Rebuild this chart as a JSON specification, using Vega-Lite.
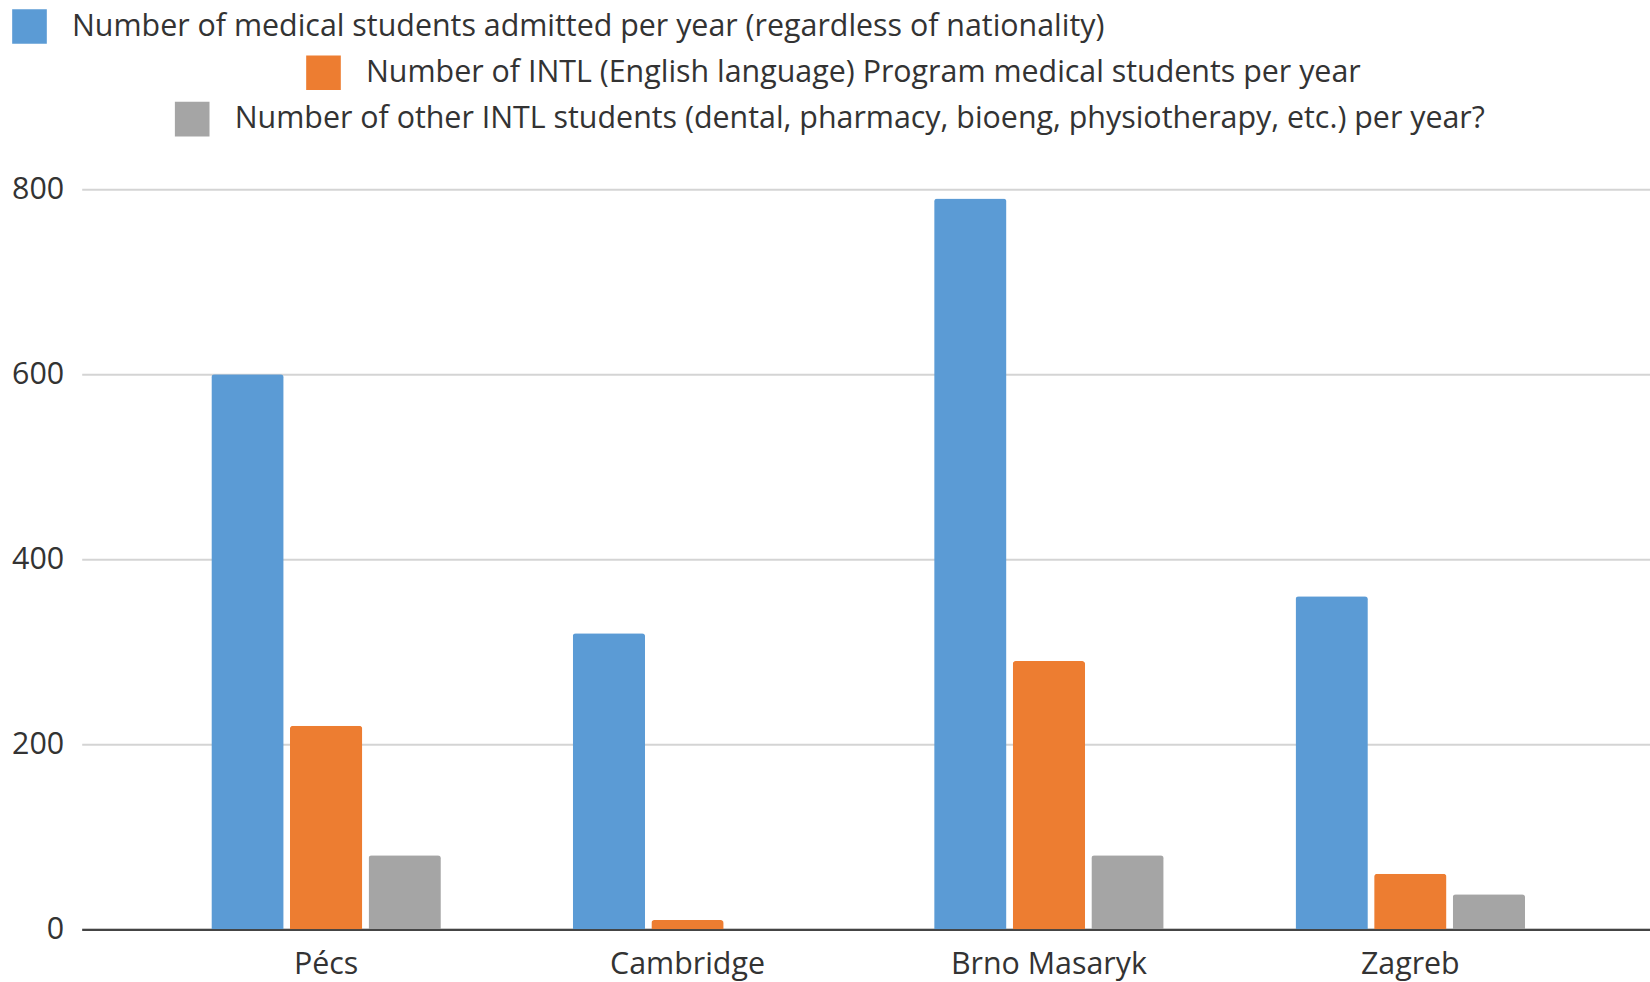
{
  "$schema": "https://vega.github.io/schema/vega-lite/v6.json",
  "width": 1573,
  "height": 740,
  "autosize": {"type": "none"},
  "padding": {"left": 81.7, "top": 189.3, "right": 0, "bottom": 52},
  "background": "white",
  "config": {
    "view": {"stroke": null},
    "font": "Open Sans",
    "legend": {
      "padding": 0,
      "symbolType": "square",
      "symbolSize": 1200,
      "symbolStrokeWidth": 0,
      "symbolOpacity": 1,
      "labelFont": "Open Sans",
      "labelFontSize": 30.4,
      "labelColor": "#333333",
      "labelOffset": 25,
      "labelLimit": 0,
      "title": null
    }
  },
  "data": {
    "values": [
      {"school": "Pécs", "series": "Number of medical students admitted per year (regardless of nationality)", "value": 600},
      {"school": "Pécs", "series": "Number of INTL (English language) Program medical students per year", "value": 220},
      {"school": "Pécs", "series": "Number of other INTL students (dental, pharmacy, bioeng, physiotherapy, etc.) per year?", "value": 80},
      {"school": "Cambridge", "series": "Number of medical students admitted per year (regardless of nationality)", "value": 320},
      {"school": "Cambridge", "series": "Number of INTL (English language) Program medical students per year", "value": 10},
      {"school": "Brno Masaryk", "series": "Number of medical students admitted per year (regardless of nationality)", "value": 790},
      {"school": "Brno Masaryk", "series": "Number of INTL (English language) Program medical students per year", "value": 290},
      {"school": "Brno Masaryk", "series": "Number of other INTL students (dental, pharmacy, bioeng, physiotherapy, etc.) per year?", "value": 80},
      {"school": "Zagreb", "series": "Number of medical students admitted per year (regardless of nationality)", "value": 360},
      {"school": "Zagreb", "series": "Number of INTL (English language) Program medical students per year", "value": 60},
      {"school": "Zagreb", "series": "Number of other INTL students (dental, pharmacy, bioeng, physiotherapy, etc.) per year?", "value": 38}
    ]
  },
  "encoding": {
    "x": {
      "field": "school",
      "type": "nominal",
      "sort": ["Pécs", "Cambridge", "Brno Masaryk", "Zagreb"],
      "scale": {"paddingInner": 0.3475, "paddingOuter": 0.35},
      "axis": {
        "title": null,
        "labelAngle": 0,
        "labelFont": "Open Sans",
        "labelFontSize": 30.4,
        "labelColor": "#333333",
        "labelPadding": 20,
        "labelLimit": 0,
        "ticks": false,
        "domainColor": "#444444",
        "domainWidth": 2.3,
        "grid": false
      }
    },
    "xOffset": {
      "field": "series",
      "type": "nominal",
      "sort": [
        "Number of medical students admitted per year (regardless of nationality)",
        "Number of INTL (English language) Program medical students per year",
        "Number of other INTL students (dental, pharmacy, bioeng, physiotherapy, etc.) per year?"
      ],
      "scale": {
        "domain": [
          "Number of medical students admitted per year (regardless of nationality)",
          "Number of INTL (English language) Program medical students per year",
          "Number of other INTL students (dental, pharmacy, bioeng, physiotherapy, etc.) per year?"
        ],
        "paddingInner": 0.08,
        "paddingOuter": 0.04
      }
    },
    "y": {
      "field": "value",
      "type": "quantitative",
      "scale": {"domain": [0, 800], "nice": false},
      "axis": {
        "title": null,
        "values": [0, 200, 400, 600, 800],
        "labelFont": "Open Sans",
        "labelFontSize": 30.4,
        "labelColor": "#333333",
        "labelPadding": 18,
        "ticks": false,
        "domain": false,
        "gridColor": "#d4d4d4",
        "gridWidth": 2
      }
    }
  },
  "layer": [
    {
      "transform": [{"filter": "datum.series === 'Number of medical students admitted per year (regardless of nationality)'"}],
      "mark": {"type": "bar", "cornerRadiusTopLeft": 3, "cornerRadiusTopRight": 3},
      "encoding": {
        "color": {
          "field": "series",
          "type": "nominal",
          "scale": {"range": ["#5B9BD5"]},
          "legend": {"orient": "none", "legendX": -69.7, "legendY": -180.3}
        }
      }
    },
    {
      "transform": [{"filter": "datum.series === 'Number of INTL (English language) Program medical students per year'"}],
      "mark": {"type": "bar", "cornerRadiusTopLeft": 3, "cornerRadiusTopRight": 3},
      "encoding": {
        "color": {
          "field": "series",
          "type": "nominal",
          "scale": {"range": ["#ED7D31"]},
          "legend": {"orient": "none", "legendX": 224.3, "legendY": -134}
        }
      }
    },
    {
      "transform": [{"filter": "datum.series === 'Number of other INTL students (dental, pharmacy, bioeng, physiotherapy, etc.) per year?'"}],
      "mark": {"type": "bar", "cornerRadiusTopLeft": 3, "cornerRadiusTopRight": 3},
      "encoding": {
        "color": {
          "field": "series",
          "type": "nominal",
          "scale": {"range": ["#A5A5A5"]},
          "legend": {"orient": "none", "legendX": 93, "legendY": -87.7}
        }
      }
    }
  ],
  "resolve": {"scale": {"color": "independent"}, "legend": {"color": "independent"}}
}
